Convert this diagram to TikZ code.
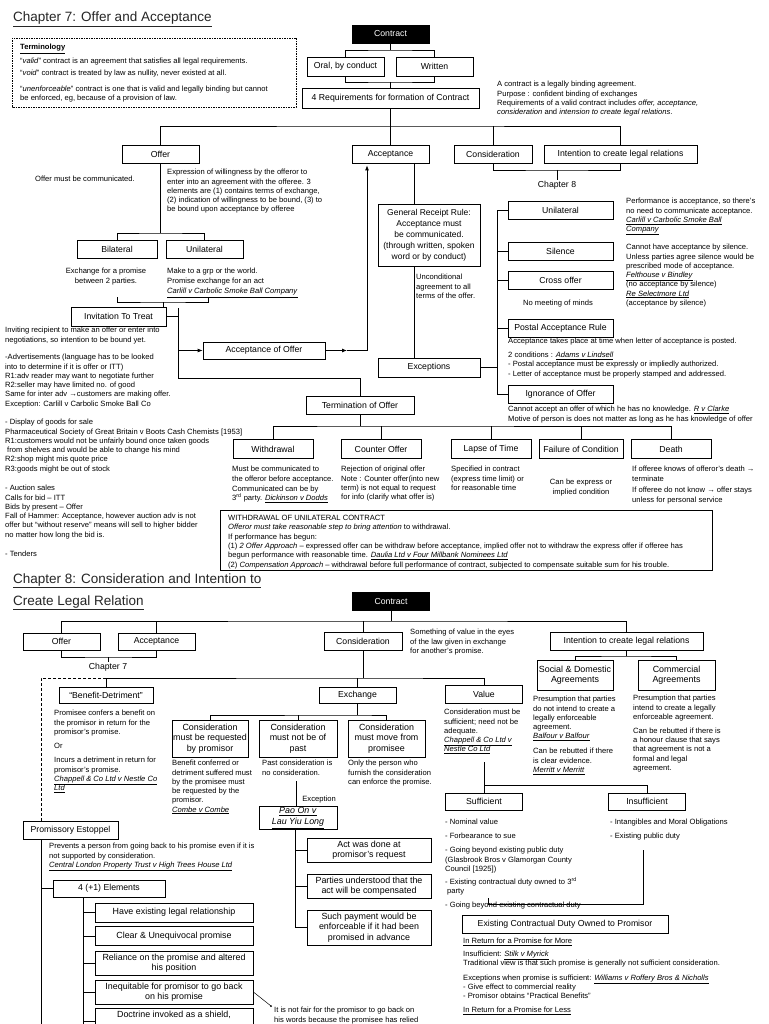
\documentclass[tikz,border=0pt]{standalone}
\usepackage{fontspec}
\setmainfont{Liberation Sans}
\usetikzlibrary{arrows.meta}

% case names: italic and underlined
\newcommand{\lcase}[1]{\underline{\textit{#1}}}

\begin{document}
\begin{tikzpicture}[x=1pt, y=-1pt,
    ln/.style={line width=0.8pt},
    box/.style={draw, line width=0.8pt, inner sep=1pt, minimum height=18pt,
        align=center, font=\fontsize{8.7}{10}\selectfont},
    blk/.style={box, fill=black, text=white},
    bigbox/.style={box, font=\fontsize{8.9}{10.6}\selectfont},
    lbl/.style={inner sep=1pt, font=\fontsize{8.7}{10}\selectfont},
    txt/.style={inner sep=0pt, anchor=north west, yshift=4pt, align=left,
        font=\fontsize{7.6}{9.3}\selectfont, execute at begin node=\strut},
    ctxt/.style={txt, anchor=north, align=center},
    ttl/.style={inner sep=0pt, anchor=base west, text=black!85,
        font=\fontsize{13.5}{16}\selectfont},
    arr/.style={ln, -{Latex[length=5pt,width=4pt]}},
    dsh/.style={ln, dash pattern=on 3pt off 2pt}
]
\useasboundingbox (0,0) rectangle (768,1024);
\fill[white] (0,0) rectangle (768,1024);

% ---------------- Chapter 7 ----------------
\node[ttl] (t7) at (13,22) {\underline{Chapter 7: Offer and Acceptance}};

% Terminology
\draw[ln, dash pattern=on 1.5pt off 1pt] (12,38) rectangle (296,107);
\node[txt] (term1) at (20,47) {\underline{\textbf{Terminology}}};
\node[txt] (term2) at (20,62) {“\textit{valid}” contract is an agreement that satisfies all legal requirements.\\[2.7pt]
“\textit{void}” contract is treated by law as nullity, never existed at all.\\[6.3pt]
“\textit{unenforceable}” contract is one that is valid and legally binding but cannot\\
be enforced, eg, because of a provision of law.};

% Contract and its forms
\node[blk, minimum width=77pt] (con7) at (390.5,34) {Contract};
\node[box, minimum width=77pt, minimum height=19pt] (oral) at (345.5,66.5) {Oral, by conduct};
\node[box, minimum width=77pt, minimum height=19pt] (writ) at (434.5,66.5) {Written};
\node[box, minimum width=177pt, minimum height=20pt] (req) at (390.5,98) {4 Requirements for formation of Contract};
\coordinate (bus1) at (390.5,50);
\coordinate (bus2) at (390.5,82);
\draw[ln] (con7) -- (bus1);
\draw[ln] (oral.north) |- (bus1) -| (writ.north);
\draw[ln] (oral.south) |- (bus2) -| (writ.south);
\draw[ln] (bus2) -- (req);
\node[txt] (defT) at (497,85) {A contract is a legally binding agreement.\\
Purpose : confident binding of exchanges\\
Requirements of a valid contract includes \textit{offer, acceptance,}\\
\textit{consideration} and \textit{intension to create legal relations}.};

% 4 requirements
\node[box, minimum width=77pt] (off7) at (160.5,154.5) {Offer};
\node[box, minimum width=77pt] (acc7) at (390.5,154) {Acceptance};
\node[box, minimum width=78pt] (cns7) at (493,154) {Consideration};
\node[box, minimum width=153pt] (int7) at (620.5,154) {Intention to create legal relations};
\coordinate (bus3) at (390.5,126);
\draw[ln] (req) -- (bus3);
\draw[ln] (off7.north) |- (bus3) -| (int7.north);
\draw[ln] (bus3) -- (acc7);
\draw[ln] (cns7.north) -- (cns7.north |- bus3);
\coordinate (ch8) at (557,170);
\draw[ln] (cns7.south) |- (ch8) -| (int7.south);
\node[lbl] (ch8l) at (557,185) {Chapter 8};
\draw[ln] (ch8) -- (ch8l.north);

% Offer
\node[ctxt] (offT) at (85,179) {Offer must be communicated.};
\node[txt] (expT) at (167,173) {Expression of willingness by the offeror to\\
enter into an agreement with the offeree. 3\\
elements are (1) contains terms of exchange,\\
(2) indication of willingness to be bound, (3) to\\
be bound upon acceptance by offeree};
\node[box, minimum width=80pt] (bil) at (117,249) {Bilateral};
\node[box, minimum width=77pt] (uni7) at (204.5,249) {Unilateral};
\coordinate (bus4) at (160.5,233);
\draw[ln] (off7) -- (bus4);
\draw[ln] (bil.north) |- (bus4) -| (uni7.north);
\node[ctxt] (bilT) at (106,272) {Exchange for a promise\\between 2 parties.};
\node[txt] (uniT) at (167,272) {Make to a grp or the world.\\
Promise exchange for an act\\[1.5pt]
\lcase{Carlill v Carbolic Smoke Ball Company}};
\coordinate (bk1) at (117,297);
\coordinate (bk2) at (208,297);
\coordinate (bus5) at (163,302);
\draw[ln] (bk1) |- (bus5) -| (bk2);

% Invitation to treat
\node[box, minimum width=95pt, minimum height=19pt] (itt) at (118.5,316.5) {Invitation To Treat};
\draw[ln] (bus5) -- (bus5 |- itt.north);
\node[txt] (ittT) at (5,331) {Inviting recipient to make an offer or enter into\\
negotiations, so intention to be bound yet.};
\node[txt] (advT) at (5,358) {-Advertisements (language has to be looked\\
into to determine if it is offer or ITT)\\
R1:adv reader may want to negotiate further\\
R2:seller may have limited no. of good\\
Same for inter adv →customers are making offer.\\
Exception: Carlill v Carbolic Smoke Ball Co};
\node[txt] (dspT) at (5,423) {- Display of goods for sale\\
Pharmaceutical Society of Great Britain v Boots Cash Chemists [1953]\\
R1:customers would not be unfairly bound once taken goods\\
\hspace{2pt}from shelves and would be able to change his mind\\
R2:shop might mis quote price\\
R3:goods might be out of stock};
\node[txt] (aucT) at (5,489) {- Auction sales\\
Calls for bid – ITT\\
Bids by present – Offer\\
Fall of Hammer: Acceptance, however auction adv is not\\
offer but “without reserve” means will sell to higher bidder\\
no matter how long the bid is.};
\node[txt] (tndT) at (5,554) {- Tenders};

% Acceptance of offer
\node[box, minimum width=122pt, minimum height=17pt] (aoo) at (264,350.5) {Acceptance of Offer};
\coordinate (v1) at (178,308);
\coordinate (v2) at (178,378);
\draw[ln] (itt.east) -- (itt.east -| v1);
\draw[arr] (aoo.west -| v1) -- (aoo.west);
\coordinate (a1) at (347,350.5);
\coordinate (a2) at (367,350.5);
\draw[arr] (aoo.east) -- (a1);
\draw[arr, shorten >=2pt] (a1) -- (a2) -- (a2 |- acc7.south);

% Acceptance
\node[box, font=\fontsize{8.5}{11}\selectfont, minimum width=102pt, minimum height=62pt] (grr) at (429,235.5)
    {General Receipt Rule:\\Acceptance must\\be communicated.\\(through written, spoken\\word or by conduct)};
\node[box, minimum width=102pt, minimum height=19pt] (exc) at (429,367.5) {Exceptions};
\coordinate (g1) at (414,163);
\draw[ln] (g1) -- (g1 |- grr.north);
\draw[ln] (g1 |- grr.south) -- (g1 |- exc.north);
\node[txt] (uncT) at (416,278) {Unconditional\\agreement to all\\terms of the offer.};

% Exceptions
\node[box, minimum width=105pt] (uni8) at (560.5,210) {Unilateral};
\node[box, minimum width=105pt] (sil) at (560.5,251) {Silence};
\node[box, minimum width=105pt] (crs) at (560.5,280) {Cross offer};
\node[box, minimum width=105pt] (pst) at (560.5,328) {Postal Acceptance Rule};
\node[box, minimum width=105pt] (ign) at (560.5,394) {Ignorance of Offer};
\coordinate (x1) at (497,210);
\draw[ln] (uni8.west) -- (x1) -- (x1 |- ign.west) -- (ign.west);
\foreach \n in {sil,crs,pst,exc}
    \draw[ln] (\n) -- (\n -| x1);
\node[txt] (perT) at (626,202) {Performance is acceptance, so there's\\
no need to communicate acceptance.\\
\lcase{Carlill v Carbolic Smoke Ball}\\
\lcase{Company}};
\node[txt] (silT) at (626,248) {Cannot have acceptance by silence.\\
Unless parties agree silence would be\\
prescribed mode of acceptance.\\
\lcase{Felthouse v Bindley}\\
(no acceptance by silence)\\
\lcase{Re Selectmore Ltd}\\
(acceptance by silence)};
\node[ctxt] (crsT) at (558,303) {No meeting of minds};
\node[txt] (pstT) at (508,342) {Acceptance takes place at time when letter of acceptance is posted.\\[4.5pt]
2 conditions : \lcase{Adams v Lindsell}\\
- Postal acceptance must be expressly or impliedly authorized.\\
- Letter of acceptance must be properly stamped and addressed.};
\node[txt] (ignT) at (508,410) {Cannot accept an offer of which he has no knowledge. \lcase{R v Clarke}\\
Motive of person is does not matter as long as he has knowledge of offer};

% Termination of offer
\node[box, minimum width=108pt] (trm) at (360,405) {Termination of Offer};
\draw[ln] (v1) -- (v2) -| (trm.north);
\node[box, minimum width=80pt, minimum height=19pt] (wdr) at (273,449) {Withdrawal};
\node[box, minimum width=80pt, minimum height=19pt] (cof) at (381,449) {Counter Offer};
\node[box, minimum width=80pt, minimum height=19pt] (lap) at (491,449) {Lapse of Time};
\node[box, minimum width=84pt, minimum height=19pt] (fail) at (581,449) {Failure of Condition};
\node[box, minimum width=80pt, minimum height=19pt] (dth) at (671,449) {Death};
\coordinate (bus6) at (360,426);
\draw[ln] (trm) -- (bus6);
\draw[ln] (wdr.north) |- (bus6) -| (dth.north);
\foreach \n in {cof,lap,fail}
    \draw[ln] (\n.north) -- (\n.north |- bus6);
\node[txt] (wdrT) at (232,470) {Must be communicated to\\
the offeror before acceptance.\\[0.8pt]
Communicated can be by\\
3\textsuperscript{rd} party. \lcase{Dickinson v Dodds}};
\node[txt] (cofT) at (341,470) {Rejection of original offer\\
Note : Counter offer(into new\\
term) is not equal to request\\
for info (clarify what offer is)};
\node[txt] (lapT) at (451,470) {Specified in contract\\
(express time limit) or\\
for reasonable time};
\node[ctxt] (failT) at (581,483) {Can be express or\\implied condition};
\node[txt] (dthT) at (632,470) {If offeree knows of offeror's death →\\
terminate\\[2.5pt]
If offeree do not know → offer stays\\
unless for personal service};

% Withdrawal of unilateral contract
\draw[ln] (220,510) rectangle (712,570);
\node[txt] (wucT) at (228,519) {WITHDRAWAL OF UNILATERAL CONTRACT\\
\textit{Offeror must take reasonable step to bring attention} to withdrawal.\\
If performance has begun:\\
(1) \textit{2 Offer Approach} – expressed offer can be withdraw before acceptance, implied offer not to withdraw the express offer if offeree has\\
begun performance with reasonable time. \lcase{Daulia Ltd v Four Millbank Nominees Ltd}\\
(2) \textit{Compensation Approach} – withdrawal before full performance of contract, subjected to compensate suitable sum for his trouble.};

% ---------------- Chapter 8 ----------------
\node[ttl] (t8a) at (13,583) {\underline{Chapter 8: Consideration and Intention to}};
\node[ttl] (t8b) at (13,605) {\underline{Create Legal Relation}};

% Contract
\node[blk, minimum width=77pt] (con8) at (391,601) {Contract};
\node[box, minimum width=77pt, minimum height=17pt] (off8) at (61.5,641.5) {Offer};
\node[box, minimum width=77pt, minimum height=17pt] (acc8) at (156.5,641.5) {Acceptance};
\node[box, minimum width=78pt] (cns8) at (363,641) {Consideration};
\node[box, minimum width=153pt] (int8) at (626.5,641) {Intention to create legal relations};
\coordinate (bus7) at (391,621);
\draw[ln] (con8) -- (bus7);
\draw[ln] (off8.north) |- (bus7) -| (int8.north);
\draw[ln] (acc8.north) -- (acc8.north |- bus7);
\draw[ln] (cns8.north) -- (cns8.north |- bus7);
\coordinate (ch7) at (108,657);
\draw[ln] (off8.south) |- (ch7) -| (acc8.south);
\node[lbl] (ch7l) at (108,667) {Chapter 7};
\draw[ln] (ch7) -- (ch7l.north);
\node[txt] (cnsT) at (410,633) {Something of value in the eyes\\
of the law given in exchange\\
for another's promise.};

% Consideration
\node[box, minimum width=94pt, minimum height=16pt] (bd) at (106,695) {“Benefit-Detriment”};
\node[box, minimum width=77pt, minimum height=16pt] (exch) at (357.5,695) {Exchange};
\node[box, minimum width=77pt] (val) at (484,694) {Value};
\coordinate (bus8) at (363,678);
\coordinate (dl) at (41,678);
\draw[ln] (cns8) -- (bus8);
\draw[ln] (bd.north) |- (bus8) -| (val.north);
\draw[ln] (exch.north) -- (exch.north |- bus8);
\node[txt] (bdT) at (54,714) {Promisee confers a benefit on\\
the promisor in return for the\\
promisor's promise.\\[4.5pt]
Or\\[5.5pt]
Incurs a detriment in return for\\
promisor's promise.\\
\lcase{Chappell \& Co Ltd v Nestle Co}\\
\lcase{Ltd}};

% Exchange
\node[bigbox, minimum width=76pt, minimum height=37pt] (rq) at (210,738.5) {Consideration\\must be requested\\by promisor};
\node[bigbox, minimum width=78pt, minimum height=37pt] (pastc) at (298,738.5) {Consideration\\must not be of\\past};
\node[bigbox, minimum width=77pt, minimum height=37pt] (mv) at (386.5,738.5) {Consideration\\must move from\\promisee};
\coordinate (bus9) at (357.5,715);
\draw[ln] (exch) -- (bus9);
\draw[ln] (rq.north) |- (bus9) -| (mv.north);
\draw[ln] (pastc.north) -- (pastc.north |- bus9);
\node[txt] (rqT) at (172,764) {Benefit conferred or\\
detriment suffered must\\
by the promisee must\\
be requested by the\\
promisor.\\
\lcase{Combe v Combe}};
\node[txt] (pastT) at (262,764) {Past consideration is\\no consideration.};
\node[txt] (mvT) at (348,764) {Only the person who\\
furnish the consideration\\
can enforce the promise.};

% Pao On exception
\node[bigbox, minimum width=78pt, minimum height=23pt] (pao) at (298,818) {\lcase{Pao On v}\\\lcase{Lau Yiu Long}};
\node[txt, anchor=north east] (excT) at (336,799) {Exception};
\coordinate (p1) at (296,781);
\draw[ln] (p1) -- (p1 |- pao.north);
\node[bigbox, minimum width=124pt, minimum height=24pt] (act) at (369,850) {Act was done at\\promisor's request};
\node[bigbox, minimum width=124pt, minimum height=24pt] (prt) at (369,886) {Parties understood that the\\act will be compensated};
\node[bigbox, minimum width=124pt, minimum height=35pt] (such) at (369,927.5) {Such payment would be\\enforceable if it had been\\promised in advance};
\coordinate (p2) at (295,829.5);
\draw[ln] (p2) |- (such.west);
\foreach \n in {act,prt}
    \draw[ln] (\n.west) -- (\n.west -| p2);

% Promissory estoppel
\node[box, minimum width=95pt] (pe) at (70.5,830) {Promissory Estoppel};
\draw[dsh] (bd.north |- dl) -- (dl) -- (dl |- pe.north);
\node[txt] (peT) at (49,847) {Prevents a person from going back to his promise even if it is\\
not supported by consideration.\\
\lcase{Central London Property Trust v High Trees House Ltd}};
\node[box, minimum width=112pt, minimum height=17pt] (elem) at (109,888.5) {4 (+1) Elements};
\coordinate (q1) at (41,839);
\coordinate (q2) at (41,1030);
\draw[ln] (q1) -- (q2);
\draw[ln] (elem.west) -- (elem.west -| q1);
\node[bigbox, minimum width=158pt, minimum height=19pt] (e1) at (174,912.5) {Have existing legal relationship};
\node[bigbox, minimum width=158pt, minimum height=19pt] (e2) at (174,936) {Clear \& Unequivocal promise};
\node[bigbox, minimum width=158pt, minimum height=24pt] (e3) at (174,963) {Reliance on the promise and altered\\his position};
\node[bigbox, minimum width=158pt, minimum height=24pt] (e4) at (174,992) {Inequitable for promisor to go back\\on his promise};
\node[bigbox, minimum width=158pt, minimum height=26pt, anchor=north] (e5) at (174,1008) {Doctrine invoked as a shield,\\\strut};
\coordinate (r1) at (83,897);
\coordinate (r2) at (83,1030);
\draw[ln] (r1) -- (r2);
\foreach \n in {e1,e2,e3,e4,e5}
    \draw[ln] (\n.west) -- (\n.west -| r1);
\coordinate (nt) at (271,1006);
\draw[line width=0.5pt] (e4.east) -- (nt);
\fill (nt) circle (1pt);
\node[txt] (ntT) at (274,1011) {It is not fair for the promisor to go back on\\
his words because the promisee has relied};

% Value
\node[txt] (valT) at (444,713) {Consideration must be\\
sufficient; need not be\\
adequate.\\
\lcase{Chappell \& Co Ltd v}\\
\lcase{Nestle Co Ltd}};
\node[box, minimum width=77pt, minimum height=17pt] (suf) at (484,801.5) {Sufficient};
\node[box, minimum width=77pt, minimum height=17pt] (ins) at (647,801.5) {Insufficient};
\coordinate (s1) at (484,762);
\coordinate (s2) at (484,785);
\draw[ln] (s1) -- (s2);
\draw[ln] (suf.north) |- (s2) -| (ins.north);
\node[txt] (sufT) at (445,823) {- Nominal value\\[4.5pt]
- Forbearance to sue\\[5pt]
- Going beyond existing public duty\\
(Glasbrook Bros v Glamorgan County\\
Council [1925])\\[3.5pt]
- Existing contractual duty owned to 3\textsuperscript{rd}\\
\hspace{2pt}party\\[4.5pt]
- Going beyond existing contractual duty};
\node[txt] (insT) at (610,823) {- Intangibles and Moral Obligations\\[4.5pt]
- Existing public duty};
\coordinate (ib1) at (643,850);
\coordinate (ib2) at (488,898);
\coordinate (ib3) at (643,904);
\draw[ln] (ib1) -- (ib3) -| (ib2);

% Existing contractual duty
\node[box, minimum width=206pt] (ecd) at (565,924) {Existing Contractual Duty Owned to Promisor};
\node[txt] (ecdT) at (463,942) {\underline{In Return for a Promise for More}\\[3.5pt]
Insufficient: \lcase{Stilk v Myrick}\\
Traditional view is that such promise is generally not sufficient consideration.\\[5pt]
Exceptions when promise is sufficient: \lcase{Williams v Roffery Bros \& Nicholls}\\
- Give effect to commercial reality\\
- Promisor obtains “Practical Benefits”\\[4.5pt]
\underline{In Return for a Promise for Less}};

% Intention to create legal relations
\node[bigbox, minimum width=76pt, minimum height=30pt] (soc) at (575,675) {Social \& Domestic\\Agreements};
\node[bigbox, minimum width=77pt, minimum height=30pt] (com) at (676.5,675) {Commercial\\Agreements};
\coordinate (bus10) at (626.5,656);
\draw[ln] (int8) -- (bus10);
\draw[ln] (soc.north) |- (bus10) -| (com.north);
\node[txt] (socT) at (533,700) {Presumption that parties\\
do not intend to create a\\
legally enforceable\\
agreement.\\
\lcase{Balfour v Balfour}\\[5.5pt]
Can be rebutted if there\\
is clear evidence.\\
\lcase{Merritt v Merritt}};
\node[txt] (comT) at (633,699) {Presumption that parties\\
intend to create a legally\\
enforceable agreement.\\[4.5pt]
Can be rebutted if there is\\
a honour clause that says\\
that agreement is not a\\
formal and legal\\
agreement.};

\end{tikzpicture}
\end{document}
